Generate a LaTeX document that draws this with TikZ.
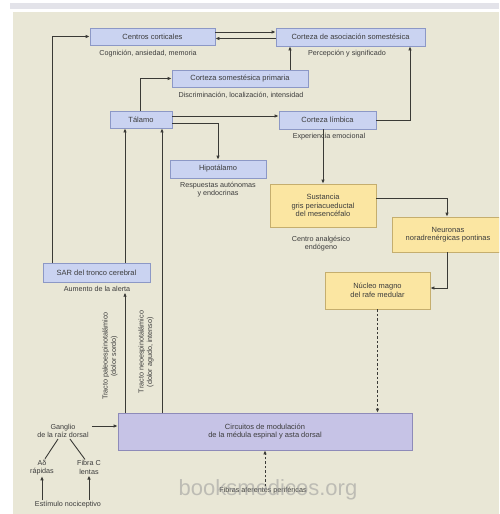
\documentclass[tikz,border=0pt]{standalone}
\usepackage{fontspec}
\setmainfont{Liberation Sans}
\usetikzlibrary{arrows.meta,shadows}
\definecolor{bg}{HTML}{E9E7D6}
\definecolor{topband}{HTML}{E3E3E9}
\definecolor{bluefill}{HTML}{CAD3F1}
\definecolor{bluebd}{HTML}{8C98C6}
\definecolor{yelfill}{HTML}{FBE6A2}
\definecolor{yelbd}{HTML}{C5AE6E}
\definecolor{lavfill}{HTML}{C6C3E6}
\definecolor{lavbd}{HTML}{8E8BB9}
\definecolor{ln}{HTML}{3A3A36}
\definecolor{txt}{HTML}{3C3C3C}
\tikzset{
  boxbase/.style={line width=0.8pt, inner sep=1pt, align=center, text=txt,
    font=\fontsize{7.5}{8.5}\selectfont,
    drop shadow={shadow xshift=1.2pt, shadow yshift=-1.2pt, fill=black!45, opacity=0.45}},
  bluebox/.style={boxbase, draw=bluebd, fill=bluefill},
  yelbox/.style={boxbase, draw=yelbd, fill=yelfill},
  lavbox/.style={boxbase, draw=lavbd, fill=lavfill},
  lbl/.style={text=txt, align=center, inner sep=1pt, font=\fontsize{7.2}{8.4}\selectfont},
  arr/.style={draw=ln, line width=0.9pt, -{Latex[length=4pt,width=3.6pt]}},
  darr/.style={arr, dash pattern=on 2.5pt off 2pt},
  plain/.style={draw=ln, line width=0.9pt}
}
\begin{document}
\begin{tikzpicture}[x=1pt,y=-1pt]
\useasboundingbox (0,0) rectangle (499,514);
\clip (0,0) rectangle (499,514);
\fill[white] (0,0) rectangle (499,514);
\fill[topband] (10,3) rectangle (499,9);
\fill[bg] (13,12) rectangle (499,514);

% boxes
\node[bluebox, minimum width=125pt, minimum height=17pt] (centros) at (152.5,36.5) {Centros corticales};
\node[lbl, anchor=north] (centroslbl) at (148,49) {Cognición, ansiedad, memoria};
\node[bluebox, minimum width=149pt, minimum height=18pt] (cas) at (350.5,37) {Corteza de asociación somestésica};
\node[lbl, anchor=north] (caslbl) at (347,49) {Percepción y significado};
\node[bluebox, minimum width=136pt, minimum height=17pt] (csp) at (240,78.5) {Corteza somestésica primaria};
\node[lbl, anchor=north] (csplbl) at (241,91) {Discriminación, localización, intensidad};
\node[bluebox, minimum width=62pt, minimum height=17pt] (talamo) at (141,119.5) {Tálamo};
\node[bluebox, minimum width=97pt, minimum height=18pt] (limbica) at (327.5,120) {Corteza límbica};
\node[lbl, anchor=north] (limbicalbl) at (329,132) {Experiencia emocional};
\node[bluebox, minimum width=96pt, minimum height=18pt] (hipo) at (218,169) {Hipotálamo};
\node[lbl, anchor=north] (hipolbl) at (218,180.5) {Respuestas autónomas\\y endocrinas};
\node[yelbox, minimum width=106pt, minimum height=43pt] (sust) at (323,205.5) {Sustancia\\gris periacueductal\\del mesencéfalo};
\node[lbl, anchor=north] (sustlbl) at (321,235) {Centro analgésico\\endógeno};
\node[yelbox, minimum width=112pt, minimum height=35pt] (neur) at (448,234.5) {Neuronas\\noradrenérgicas pontinas};
\node[yelbox, minimum width=105pt, minimum height=37pt] (nucleo) at (377.5,290.5) {Núcleo magno\\del rafe medular};
\node[bluebox, minimum width=107pt, minimum height=19pt] (sar) at (96.5,272.5) {SAR del tronco cerebral};
\node[lbl, anchor=north] (sarlbl) at (97,285) {Aumento de la alerta};
\node[lavbox, minimum width=294pt, minimum height=37pt] (circ) at (265,431.5) {Circuitos de modulación\\de la médula espinal y asta dorsal};

% vertical tract labels
\node[lbl, rotate=90] (paleo) at (110,356) {Tracto paleoespinotalámico\\(dolor sordo)};
\node[lbl, rotate=90] (neo) at (146,352) {Tracto neoespinotalámico\\(dolor agudo, intenso)};

% periphery
\node[lbl] (ganglio) at (63,431) {Ganglio\\de la raíz dorsal};
\node[lbl] (adelta) at (42,467.5) {Aδ\\rápidas};
\node[lbl] (fibrac) at (89,467.5) {Fibra C\\lentas};
\node[lbl] (estim) at (68,505) {Estímulo nociceptivo};
\node[lbl] (fibras) at (263,491) {Fibras aferentes periféricas};
\node[text=black!40, opacity=0.55, font=\fontsize{22}{22}\selectfont] (wm) at (268,490) {booksmedicos.org};

% connectors
\draw[arr] ([xshift=-44.5pt]sar.north) |- (centros.west);
\draw[arr] ([yshift=4.5pt]centros.east) -- ([yshift=4.5pt]centros.east -| cas.west);
\draw[arr] ([yshift=-1.5pt]cas.west) -- ([yshift=-1.5pt]cas.west -| centros.east);
\draw[arr] ([xshift=-1pt]talamo.north) |- (csp.west);
\draw[arr] ([xshift=50pt]csp.north) -- ([xshift=50pt]csp.north |- cas.south);
\draw[arr] (limbica.east) -| ([xshift=59.5pt]cas.south);
\draw[arr] ([yshift=3.5pt]talamo.east) -- ([yshift=3.5pt]talamo.east -| limbica.west);
\draw[arr] ([yshift=-3.5pt]talamo.east) -| (hipo.north);
\draw[arr] (sust.north |- limbica.south) -- (sust.north);
\draw[arr] ([yshift=7.5pt]sust.east) -| ([xshift=-1pt]neur.north);
\draw[arr] ([xshift=-1pt]neur.south) |- ([yshift=2.5pt]nucleo.east);
\draw[darr] (nucleo.south) -- (nucleo.south |- circ.north);
\draw[arr] ([xshift=28.5pt]sar.north) -- ([xshift=28.5pt]sar.north |- talamo.south);
\draw[arr] ([xshift=28.5pt]sar.south |- circ.north) -- ([xshift=28.5pt]sar.south |- sarlbl.south);
\draw[arr] ([xshift=21pt]talamo.south |- circ.north) -- ([xshift=21pt]talamo.south);
\draw[arr] ([xshift=2pt,yshift=5pt]ganglio.east) -- ([yshift=5pt]ganglio.east -| circ.west);
\draw[plain] ([xshift=-5pt]ganglio.south) -- ([xshift=3pt]adelta.north);
\draw[plain] ([xshift=7pt]ganglio.south) -- ([xshift=-4pt]fibrac.north);
\draw[arr] (adelta.south |- estim.north) -- (adelta.south);
\draw[arr] (fibrac.south |- estim.north) -- (fibrac.south);
\draw[darr] (fibras.north -| circ.south) -- (circ.south);
\end{tikzpicture}
\end{document}
